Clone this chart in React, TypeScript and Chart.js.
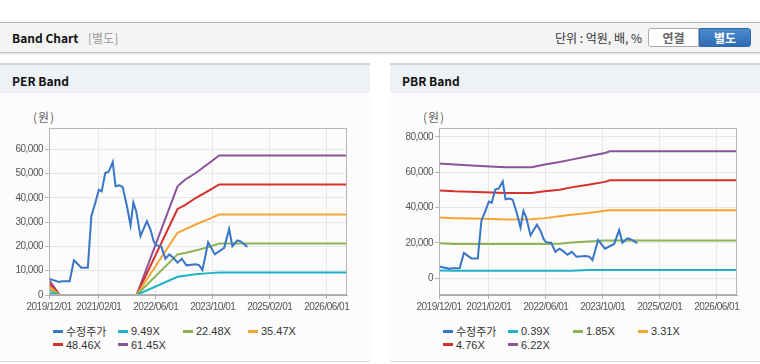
import React, { useEffect, useRef } from "react";
import { Chart, registerables } from "chart.js";
Chart.register(...registerables);

// ---- axis ticks (months since 2019/12/01) ----
const TICK_MONTHS = [0, 14, 30, 46, 62, 78];
const TICK_LABELS = ["2019/12/01", "2021/02/01", "2022/06/01", "2023/10/01", "2025/02/01", "2026/06/01"];
const X_MAX = 83.7;

// ---- adjusted price (수정주가) ----
const PRICE_MONTHS = [0, 3.0, 3.5, 5.8, 7.0, 9.1, 10.9, 11.9, 13.0, 14.0, 14.8, 15.8, 16.8, 17.9, 18.7, 19.8, 20.7, 21.9, 22.9, 23.7, 24.5, 25.7, 26.8, 27.5, 28.5, 29.4, 30.1, 31.5, 32.7, 33.8, 34.9, 36.1, 37.3, 38.6, 41.2, 42.2, 43.1, 44.7, 46.6, 49.2, 50.6, 51.5, 52.9, 53.8, 55.7];
const PRICE_VALUES = [6700, 5300, 5700, 5700, 14300, 11200, 11200, 32400, 37900, 43300, 42600, 50200, 50800, 54700, 44700, 45100, 44400, 36500, 28600, 38100, 34400, 24200, 28000, 30300, 26900, 22100, 20400, 20100, 14900, 16700, 15300, 13300, 14900, 12200, 12600, 12200, 10300, 21700, 16700, 19400, 27200, 20100, 22500, 22100, 19800];

// ---- PER band ----
const PER_LABELS = ["9.49X", "22.48X", "35.47X", "48.46X", "61.45X"];
const PER_BAND_MONTHS = [0, 3, 10, 24.6, 36.1, 38.2, 41.2, 45, 47.8, 83.7];
const PER_BAND_1 = [950, 0, null, 0, 7500, 7900, 8500, 9000, 9300, 9300];
const PER_BAND_2 = [2300, 0, null, 0, 16700, 17300, 18300, 19800, 21200, 21200];
const PER_BAND_3 = [3600, 0, null, 0, 25600, 27000, 29000, 31300, 33100, 33100];
const PER_BAND_4 = [4900, 0, null, 0, 35400, 37000, 39900, 43000, 45500, 45500];
const PER_BAND_5 = [6200, 0, null, 0, 44700, 47400, 50200, 54300, 57400, 57400];
const PER_Y_TICKS = [0, 10000, 20000, 30000, 40000, 50000, 60000];

// ---- PBR band ----
const PBR_LABELS = ["0.39X", "1.85X", "3.31X", "4.76X", "6.22X"];
const PBR_BAND_MONTHS = [0, 4.4, 12.9, 18.5, 26, 29.7, 33.9, 37.2, 41.9, 46.6, 48, 83.7];
const PBR_BAND_1 = [4300, 4250, 4250, 4250, 4250, 4250, 4250, 4250, 4650, 4650, 4650, 4650];
const PBR_BAND_2 = [19850, 19300, 19300, 19300, 19300, 19400, 19500, 20200, 20800, 21300, 21300, 21300];
const PBR_BAND_3 = [34400, 34000, 33600, 33200, 33300, 34000, 35000, 35900, 36900, 38200, 38400, 38400];
const PBR_BAND_4 = [49700, 49150, 48600, 48200, 48200, 49150, 50100, 51400, 52900, 54500, 55400, 55400];
const PBR_BAND_5 = [64850, 64300, 63300, 62750, 62750, 64300, 65800, 67100, 69000, 70900, 71800, 71800];
const PBR_Y_TICKS = [0, 20000, 40000, 60000, 80000];

const COLORS = ["#3a76c8", "#1db2c6", "#8cb454", "#f4a533", "#d6302b", "#8c529a"];
const TICK_FONT = "'Liberation Sans', Arial, sans-serif";

const tightTextPlugin = {
  id: "tightText",
  beforeUpdate(chart: any) {
    chart.ctx.letterSpacing = "-0.5px";
  },
  beforeDraw(chart: any) {
    chart.ctx.letterSpacing = "-0.5px";
  },
};

const framePlugin = {
  id: "frame",
  afterDraw(chart: any) {
    const { ctx, chartArea } = chart;
    ctx.save();
    ctx.strokeStyle = "#b4b4b4";
    ctx.lineWidth = 1;
    const l = Math.round(chartArea.left) + 0.5;
    const t = Math.round(chartArea.top) + 0.5;
    const r = Math.round(chartArea.right) - 0.5;
    const b = Math.round(chartArea.bottom) - 0.5;
    ctx.strokeRect(l, t, r - l, b - t);
    ctx.restore();
  },
};

type PanelProps = {
  left: number;
  title: string;
  labels: string[];
  bandMonths: number[];
  bands: (number | null)[][];
  yMin: number;
  yMax: number;
  yTicks: number[];
};

function BandPanel(p: PanelProps) {
  const ref = useRef<HTMLCanvasElement | null>(null);
  useEffect(() => {
    if (!ref.current) return;
    const lineDs = (label: string, xs: number[], ys: (number | null)[], color: string) => ({
      label,
      data: xs.map((x, i) => ({ x, y: ys[i] })),
      borderColor: color,
      backgroundColor: color,
      borderWidth: 2,
      pointRadius: 0,
      fill: false,
      tension: 0,
      spanGaps: false,
    });
    const datasets = [
      lineDs("수정주가", PRICE_MONTHS, PRICE_VALUES, COLORS[0]),
      ...p.bands.map((b, i) => lineDs(p.labels[i], p.bandMonths, b, COLORS[i + 1])),
    ];
    const chart = new Chart(ref.current, {
      type: "line",
      data: { datasets },
      options: {
        animation: false,
        responsive: false,
        maintainAspectRatio: false,
        layout: { padding: { top: 35, right: 23, left: 0, bottom: 0 } },
        plugins: { legend: { display: false }, tooltip: { enabled: false } },
        scales: {
          x: {
            type: "linear",
            min: 0,
            max: X_MAX,
            afterBuildTicks: (s: any) => {
              s.ticks = TICK_MONTHS.map((v) => ({ value: v }));
            },
            afterFit: (s: any) => {
              s.height = 28;
            },
            ticks: {
              autoSkip: false,
              maxRotation: 0,
              padding: 2,
              color: "#555",
              font: { family: TICK_FONT, size: 10 },
              callback: (v: any) => {
                const i = TICK_MONTHS.indexOf(Number(v));
                return i >= 0 ? TICK_LABELS[i] : "";
              },
            },
            grid: { color: "#e8e8e8", tickColor: "#b4b4b4", tickLength: 4 },
            border: { color: "#aaaaaa" },
          },
          y: {
            type: "linear",
            min: p.yMin,
            max: p.yMax,
            afterBuildTicks: (s: any) => {
              s.ticks = p.yTicks.map((v) => ({ value: v }));
            },
            afterFit: (s: any) => {
              s.width = 49;
            },
            ticks: {
              padding: 2,
              color: "#555",
              font: { family: TICK_FONT, size: 10 },
              callback: (v: any) => Number(v).toLocaleString("en-US"),
            },
            grid: { color: "#e8e8e8", tickColor: "#b4b4b4", tickLength: 4 },
            border: { color: "#aaaaaa" },
          },
        },
      } as any,
      plugins: [tightTextPlugin, framePlugin],
    });
    return () => chart.destroy();
  }, []);

  const legendItems = ["수정주가", ...p.labels];
  return (
    <div
      style={{
        position: "absolute",
        left: p.left,
        top: 63,
        width: 370,
        height: 299,
        background: "#fcfcfc",
        borderTop: "2px solid #d4d4d4",
        borderBottom: "1px solid #d8d8d8",
        boxSizing: "border-box",
      }}
    >
      <div
        style={{
          position: "absolute",
          left: 0,
          top: 0,
          width: 370,
          height: 28,
          background: "#eef2f7",
        }}
      />
      <div
        style={{
          position: "absolute",
          left: 12,
          top: 6,
          fontSize: 12,
          fontWeight: 700,
          color: "#111",
          lineHeight: "20px",
        }}
      >
        {p.title}
      </div>
      <div
        style={{
          position: "absolute",
          left: 33,
          top: 44,
          fontSize: 12,
          color: "#666",
          letterSpacing: 1,
          lineHeight: "16px",
        }}
      >
        (원)
      </div>
      <canvas
        ref={ref}
        width={370}
        height={230}
        style={{ position: "absolute", left: 0, top: 28, width: 370, height: 230 }}
      />
      {legendItems.map((lab, i) => {
        const row = i < 4 ? 0 : 1;
        const col = i < 4 ? i : i - 4;
        return (
          <div
            key={lab}
            style={{
              position: "absolute",
              left: 53 + col * 65,
              top: 259 + row * 13.5,
              height: 14,
              display: "flex",
              alignItems: "center",
              fontSize: 11,
              color: "#333",
              fontFamily: "'Liberation Sans', 'Noto Sans CJK KR', sans-serif",
              whiteSpace: "nowrap",
            }}
          >
            <span
              style={{
                display: "inline-block",
                width: 10,
                height: 3,
                background: COLORS[i],
                marginRight: 3,
              }}
            />
            <span>{lab}</span>
          </div>
        );
      })}
    </div>
  );
}

export default function App() {
  return (
    <div
      style={{
        position: "absolute",
        left: 0,
        top: 0,
        width: 760,
        height: 364,
        background: "#ffffff",
        overflow: "hidden",
        fontFamily: "'Noto Sans CJK KR', 'Liberation Sans', sans-serif",
      }}
    >
      <div
        style={{
          position: "absolute",
          left: 0,
          top: 22,
          width: 760,
          height: 31,
          background: "#f4f4f4",
          borderTop: "1px solid #b0b0b0",
          borderBottom: "1px solid #c4c4c4",
          boxShadow: "0 1px 2px rgba(0,0,0,0.15)",
          boxSizing: "border-box",
        }}
      >
        <span
          style={{
            position: "absolute",
            left: 12,
            top: 5,
            fontSize: 12,
            fontWeight: 700,
            color: "#111",
            lineHeight: "20px",
          }}
        >
          Band Chart
        </span>
        <span
          style={{
            position: "absolute",
            left: 88,
            top: 5,
            fontSize: 12,
            color: "#999",
            lineHeight: "20px",
          }}
        >
          [별도]
        </span>
        <span
          style={{
            position: "absolute",
            right: 118,
            top: 5,
            fontSize: 12,
            color: "#333",
            lineHeight: "20px",
          }}
        >
          단위 : 억원, 배, %
        </span>
        <div
          style={{
            position: "absolute",
            left: 648,
            top: 5,
            width: 51,
            height: 19,
            boxSizing: "border-box",
            border: "1px solid #aaaaaa",
            borderRadius: "3px 0 0 3px",
            background: "#ffffff",
            color: "#666",
            fontSize: 12,
            fontWeight: 700,
            textAlign: "center",
            lineHeight: "17px",
          }}
        >
          연결
        </div>
        <div
          style={{
            position: "absolute",
            left: 699,
            top: 5,
            width: 52,
            height: 19,
            boxSizing: "border-box",
            border: "1px solid #2d68aa",
            borderRadius: "0 3px 3px 0",
            background: "linear-gradient(#4a8bd0, #2f6cb0)",
            color: "#ffffff",
            fontSize: 12,
            fontWeight: 700,
            textAlign: "center",
            lineHeight: "17px",
          }}
        >
          별도
        </div>
      </div>
      <BandPanel
        left={0}
        title="PER Band"
        labels={PER_LABELS}
        bandMonths={PER_BAND_MONTHS}
        bands={[PER_BAND_1, PER_BAND_2, PER_BAND_3, PER_BAND_4, PER_BAND_5]}
        yMin={0}
        yMax={68700}
        yTicks={PER_Y_TICKS}
      />
      <BandPanel
        left={390}
        title="PBR Band"
        labels={PBR_LABELS}
        bandMonths={PBR_BAND_MONTHS}
        bands={[PBR_BAND_1, PBR_BAND_2, PBR_BAND_3, PBR_BAND_4, PBR_BAND_5]}
        yMin={-9500}
        yMax={85000}
        yTicks={PBR_Y_TICKS}
      />
    </div>
  );
}
